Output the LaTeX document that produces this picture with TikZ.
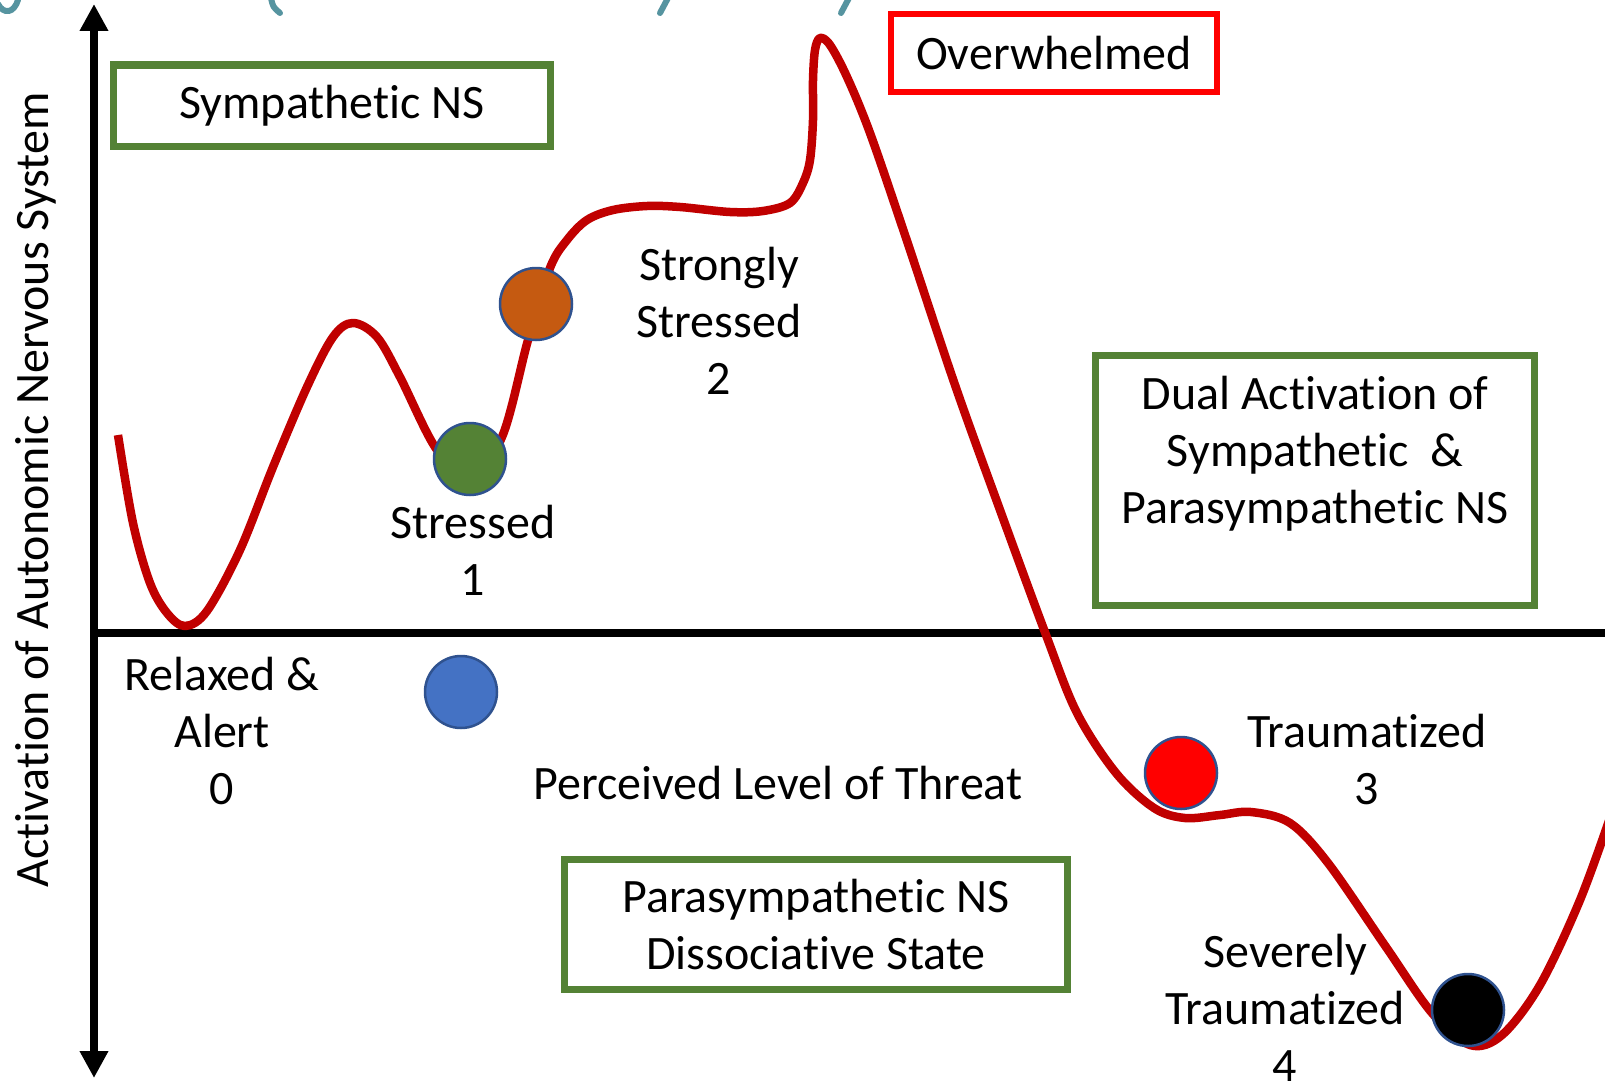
\documentclass[tikz,border=0pt]{standalone}
\usepackage{fontspec}
\setmainfont{Carlito}[Ligatures=NoCommon]
\usetikzlibrary{arrows.meta}
\definecolor{curvered}{HTML}{C00000}
\definecolor{boxgreen}{HTML}{548235}
\definecolor{ringblue}{HTML}{2F528F}
\definecolor{ballgreen}{HTML}{548235}
\definecolor{ballorange}{HTML}{C55A11}
\definecolor{ballblue}{HTML}{4472C4}
\definecolor{titleteal}{HTML}{5694A0}
\begin{document}
\begin{tikzpicture}[x=1pt,y=-1pt,
  lbl/.style={font=\fontsize{48}{57}\selectfont, align=center, inner sep=0pt},
  greenframe/.style={draw=boxgreen, line width=7pt, inner sep=0pt},
  redframe/.style={draw=red, line width=5.5pt, inner sep=0pt},
  ball/.style={circle, draw=ringblue, line width=2.5pt, minimum size=72pt, inner sep=0pt},
  axisline/.style={line width=8pt, black},
  bigtip/.tip={Triangle[width=27pt,length=27pt]},
  tealstroke/.style={titleteal, line width=6pt, line cap=round},
]
\useasboundingbox (0,0) rectangle (1605,1081);

% heading strokes cut by the top edge
\draw[tealstroke] (-2,4) .. controls (4,15) and (14,13) .. (18,0);
\draw[tealstroke] (271,-2) .. controls (273,7) .. (280,13);
\draw[tealstroke] (668,-2) -- (660,13);
\draw[tealstroke] (849,-2) -- (841,13);

% axes
\coordinate (ytop) at (94,4);
\coordinate (ybot) at (94,1078);
\coordinate (xl) at (90,633);
\coordinate (xr) at (1612,633);
\draw[axisline] (xl) -- (xr);
\draw[axisline, bigtip-bigtip] (ybot) -- (ytop);

\node[lbl, rotate=90] (ylab) at (36,490) {Activation of Autonomic Nervous System};

% frames
\node[greenframe, minimum width=437pt, minimum height=81pt, lbl] (symp) at (332,105.5) {Sympathetic NS};
\node[redframe, minimum width=326pt, minimum height=78pt, lbl] (over) at (1054,53) {Overwhelmed};
\node[greenframe, minimum width=439pt, minimum height=250pt] (dualbox) at (1315,480.5) {};
\node[lbl] (dual) at (1315,454) {Dual Activation of\\Sympathetic\ \ \&\\Parasympathetic NS};
\node[greenframe, minimum width=503pt, minimum height=130pt, lbl] (para) at (816,924.5) {Parasympathetic NS\\Dissociative State};

% threat curve
\draw[curvered, line width=8.5pt, line join=round] plot[smooth, tension=0.55] coordinates {
  (118,435) (133,523) (150,583) (167,613) (185,626) (207,611) (240,550)
  (273,467) (307,387) (333,337) (353,323) (377,337) (400,377) (435,447)
  (468,480) (502,437) (528,340) (550,268) (567,240) (587,220) (613,210)
  (647,206) (680,207) (730,212) (763,211) (790,203) (803,183) (810,160)
  (813,120) (813,80) (815,50) (820,38) (830,45) (847,77) (870,133)
  (905,235) (955,385) (1000,510) (1046,635) (1077,713) (1116,773)
  (1154,808) (1185,818) (1220,815) (1251,812) (1290,823) (1328,863)
  (1386,947) (1432,1013) (1470,1045) (1502,1035) (1540,985) (1580,900)
  (1612,812)};

% state markers
\node[ball, fill=ballgreen] (s1) at (470,459) {};
\node[ball, fill=ballorange] (s2) at (536,304) {};
\node[ball, fill=ballblue] (s0) at (461,692) {};
\node[ball, fill=red] (s3) at (1181,773) {};
\node[ball, fill=black] (s4) at (1468,1010) {};

% state labels
\node[lbl] (l0) at (222,731) {Relaxed \&\\Alert\\0};
\node[lbl] (l1) at (473,550) {Stressed\\1};
\node[lbl] (l2) at (719,321) {Strongly\\Stressed\\2};
\node[lbl] (l3) at (1367,759) {Traumatized\\3};
\node[lbl] (l4) at (1285,1008) {Severely\\Traumatized\\4};
\node[lbl] (threat) at (778,783) {Perceived Level of Threat};
\end{tikzpicture}
\end{document}
